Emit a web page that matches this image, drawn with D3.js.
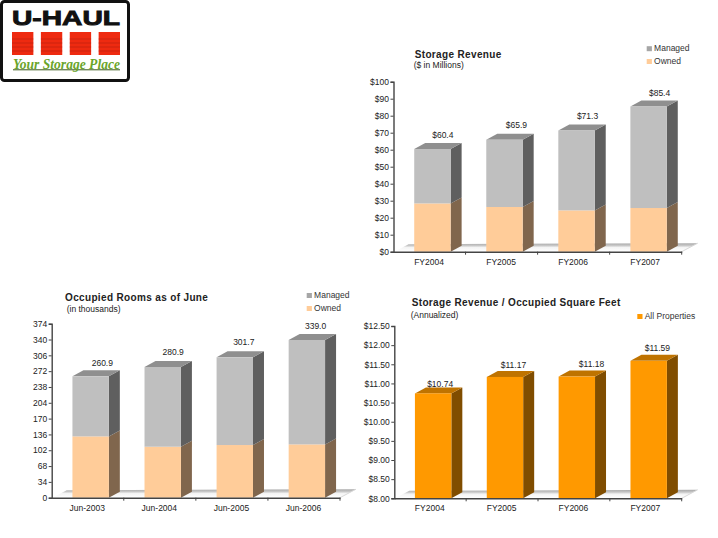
<!DOCTYPE html>
<html>
<head>
<meta charset="utf-8">
<script src="https://cdn.jsdelivr.net/npm/d3@7/dist/d3.min.js"></script>
<style>
html,body{margin:0;padding:0;background:#fff;overflow:hidden}
svg{display:block}
text{font-family:"Liberation Sans",Arial,sans-serif}
</style>
</head>
<body>
<svg id="c" width="718" height="538"></svg>
<script>
// ---- data ----
const fiscalYears = ["FY2004","FY2005","FY2006","FY2007"];
const juneDates = ["Jun-2003","Jun-2004","Jun-2005","Jun-2006"];

const revenueOwned = [28.4,26.3,24.3,25.7];
const revenueManaged = [32.0,39.6,47.0,59.7];
const revenueLabels = ["$60.4","$65.9","$71.3","$85.4"];
const revenueTicks = [0,10,20,30,40,50,60,70,80,90,100];

const roomsOwned = [131.8,109.6,113.2,114.6];
const roomsManaged = [129.1,171.3,188.5,224.4];
const roomsLabels = ["260.9","280.9","301.7","339.0"];
const roomsTicks = [0,34,68,102,136,170,204,238,272,306,340,374];

const perSqFt = [10.74,11.17,11.18,11.59];
const perSqFtLabels = ["$10.74","$11.17","$11.18","$11.59"];
const perSqFtTicks = [8,8.5,9,9.5,10,10.5,11,11.5,12,12.5];

const managedName = "Managed", ownedName = "Owned", allName = "All Properties";

// ---- style ----
const C = {
  managed:{front:"#bfbfbf",side:"#5f5f5f",top:"#8f8f8f"},
  owned:{front:"#ffcc99",side:"#80664d",top:"#bf9973"},
  all:{front:"#ff9900",side:"#804d00",top:"#bf7300"}
};
const svg = d3.select("#c");
const defs = svg.append("defs");
const g = defs.append("linearGradient").attr("id","floor").attr("x1",0).attr("y1",0).attr("x2",0).attr("y2",1);
g.append("stop").attr("offset",0).attr("stop-color","#a8a8a8");
g.append("stop").attr("offset",.28).attr("stop-color","#c8c8c8");
g.append("stop").attr("offset",.5).attr("stop-color","#f4f4f4");
g.append("stop").attr("offset",1).attr("stop-color","#ffffff");

const DX = 11, DY = 6, FS = 8.5, INK = "#222";

function text(sel,x,y,s,o={}){
  return sel.append("text").attr("x",x).attr("y",y).text(s)
    .attr("font-size",o.size||FS).attr("fill",o.fill||INK)
    .attr("font-weight",o.weight||"normal")
    .attr("text-anchor",o.anchor||"start")
    .attr("letter-spacing",o.ls||0);
}
function poly(sel,pts,fill){ sel.append("polygon").attr("points",pts.map(p=>p.join(",")).join(" ")).attr("fill",fill); }

function chart(o){
  const root = svg.append("g");
  const x = d3.scaleBand().domain(o.cats).range([o.x0,o.x1]);
  const y = d3.scaleLinear().domain(o.domain).range([o.y0,o.yTop]);
  const bw = 36.4, shift = 2.9;

  // floor
  poly(root,[[o.x0+1,o.y0],[o.x0+15,o.y0-7.5],[o.x1+16,o.y0-8.5],[o.x1,o.y0]],"url(#floor)");
  root.append("line").attr("x1",o.x1).attr("y1",o.y0).attr("x2",o.x1+16).attr("y2",o.y0-8.5).attr("stroke","#d8d8d8");

  // bars
  o.series.forEach(s=>{
    o.cats.forEach((c,i)=>{
      const base = s.base ? s.base[i] : o.domain[0];
      const top = base + s.values[i] - (s.base ? 0 : (o.domain[0]===0?0:o.domain[0]));
      const xl = x(c)+(x.bandwidth()-bw)/2+shift, xr = xl+bw;
      const yb = y(base), yt = y(top);
      poly(root,[[xr,yb],[xr+DX,yb-DY],[xr+DX,yt-DY],[xr,yt]],s.color.side);
      if(s.cap) poly(root,[[xl,yt],[xl+DX,yt-DY],[xr+DX,yt-DY],[xr,yt]],s.color.top);
      root.append("rect").attr("x",xl).attr("y",yt).attr("width",bw).attr("height",yb-yt).attr("fill",s.color.front);
    });
  });

  // axes
  const ya = d3.axisLeft(y).tickValues(o.ticks).tickFormat(o.fmt).tickSize(3).tickPadding(1.5);
  const yg = root.append("g").attr("transform",`translate(${o.x0},0)`).call(ya);
  const xa = d3.axisBottom(x).tickSize(0).tickPadding(7);
  const xg = root.append("g").attr("transform",`translate(0,${o.y0})`).call(xa);
  xg.selectAll(".tick text").attr("dx",-0.5);
  [yg,xg].forEach(a=>{
    a.attr("font-family",null).attr("font-size",FS);
    a.selectAll("text").attr("fill",INK).attr("font-size",FS);
    a.selectAll("line").attr("stroke","#444");
    a.select(".domain").attr("stroke","#444").attr("stroke-width",1.4);
  });
  root.append("g").selectAll("line").data(o.cats).join("line")
    .attr("x1",d=>x(d)+x.bandwidth()).attr("x2",d=>x(d)+x.bandwidth())
    .attr("y1",o.y0).attr("y2",o.y0+3).attr("stroke","#444");

  // value labels
  o.labels.forEach((l,i)=>{
    const c = o.cats[i];
    const tot = o.totals[i];
    text(root,x(c)+x.bandwidth()/2+shift+o.labelDx[i],y(tot)-o.labelDy[i],l,{anchor:"middle"});
  });

  // titles
  text(root,o.title.x,o.title.y,o.title.s,{size:10,weight:"bold",ls:o.title.ls});
  text(root,o.sub.x,o.sub.y,o.sub.s,{});

  // legend
  o.legend.forEach(l=>{
    root.append("rect").attr("x",l.x).attr("y",l.y-5).attr("width",5.2).attr("height",5).attr("fill",l.color);
    text(root,l.x+7.4,l.y,l.s,{fill:"#333"});
  });
}

const money0 = d=>"$"+d;
const money2 = d=>"$"+d.toFixed(2);

chart({
  cats:fiscalYears,domain:[0,100],x0:393.5,x1:681.7,y0:251.7,yTop:81.7,
  ticks:revenueTicks,fmt:money0,labels:revenueLabels,
  totals:revenueOwned.map((v,i)=>v+revenueManaged[i]),
  labelDx:[10.4,12,11,11],labelDy:[11.5,11.3,11.5,11],
  series:[
    {values:revenueOwned,color:C.owned},
    {values:revenueManaged,base:revenueOwned,color:C.managed,cap:true}
  ],
  title:{x:414.7,y:57.7,s:"Storage Revenue",ls:.35},
  sub:{x:413.7,y:68.3,s:"($ in Millions)"},
  legend:[{x:646.7,y:51.2,s:managedName,color:"#a6a6a6"},{x:646.7,y:64,s:ownedName,color:C.owned.front}]
});

chart({
  cats:juneDates,domain:[0,374],x0:51.7,x1:340,y0:497.7,yTop:323.7,
  ticks:roomsTicks,fmt:d3.format("d"),labels:roomsLabels,
  totals:roomsOwned.map((v,i)=>v+roomsManaged[i]),
  labelDx:[11.7,10.5,9,8.7],labelDy:[10.6,12.4,12,11.3],
  series:[
    {values:roomsOwned,color:C.owned},
    {values:roomsManaged,base:roomsOwned,color:C.managed,cap:true}
  ],
  title:{x:65,y:301,s:"Occupied Rooms as of June",ls:.35},
  sub:{x:66.7,y:312.3,s:"(in thousands)"},
  legend:[{x:306.7,y:298,s:managedName,color:"#a6a6a6"},{x:306.7,y:311,s:ownedName,color:C.owned.front}]
});

chart({
  cats:fiscalYears,domain:[8,12.5],x0:394.3,x1:681.7,y0:498.3,yTop:326,
  ticks:perSqFtTicks,fmt:money2,labels:perSqFtLabels,
  totals:perSqFt,
  labelDx:[7,8.5,14.7,8.7],labelDy:[6.7,9.3,9.3,9.7],
  series:[{values:perSqFt,color:C.all,cap:true}],
  title:{x:411.7,y:305.7,s:"Storage Revenue / Occupied Square Feet",ls:.35},
  sub:{x:410.7,y:317.7,s:"(Annualized)"},
  legend:[{x:637.3,y:319,s:allName,color:C.all.front}]
});

// ---- logo ----
const logo = svg.append("g");
logo.append("rect").attr("x",1.5).attr("y",1.5).attr("width",127).attr("height",79).attr("rx",3).attr("fill","#fff").attr("stroke","#111").attr("stroke-width",3);
text(logo,12,25,"U-HAUL",{size:21,weight:"bold",fill:"#111"})
  .attr("textLength",108).attr("lengthAdjust","spacingAndGlyphs")
  .attr("stroke","#111").attr("stroke-width",.9);
const doorX = d3.scaleBand().domain([0,1,2,3]).range([12,120]).paddingInner(.26).paddingOuter(0);
[0,1,2,3].forEach(i=>{
  logo.append("rect").attr("x",doorX(i)).attr("y",32).attr("width",doorX.bandwidth()).attr("height",23).attr("fill","#ee2a10");
  [39,43,47,51].forEach(yy=>logo.append("line").attr("x1",doorX(i)).attr("x2",doorX(i)+doorX.bandwidth()).attr("y1",yy).attr("y2",yy).attr("stroke","#b5200f").attr("stroke-width",.6));
});
logo.append("rect").attr("x",13).attr("y",69.3).attr("width",107).attr("height",1).attr("fill","#3a5a1a");
text(logo,13,69,"Your Storage Place",{size:15,weight:"bold",fill:"#6aa52a"})
  .attr("font-style","italic").style("font-family","'Liberation Serif',serif")
  .attr("textLength",107).attr("lengthAdjust","spacingAndGlyphs");
</script>
</body>
</html>
